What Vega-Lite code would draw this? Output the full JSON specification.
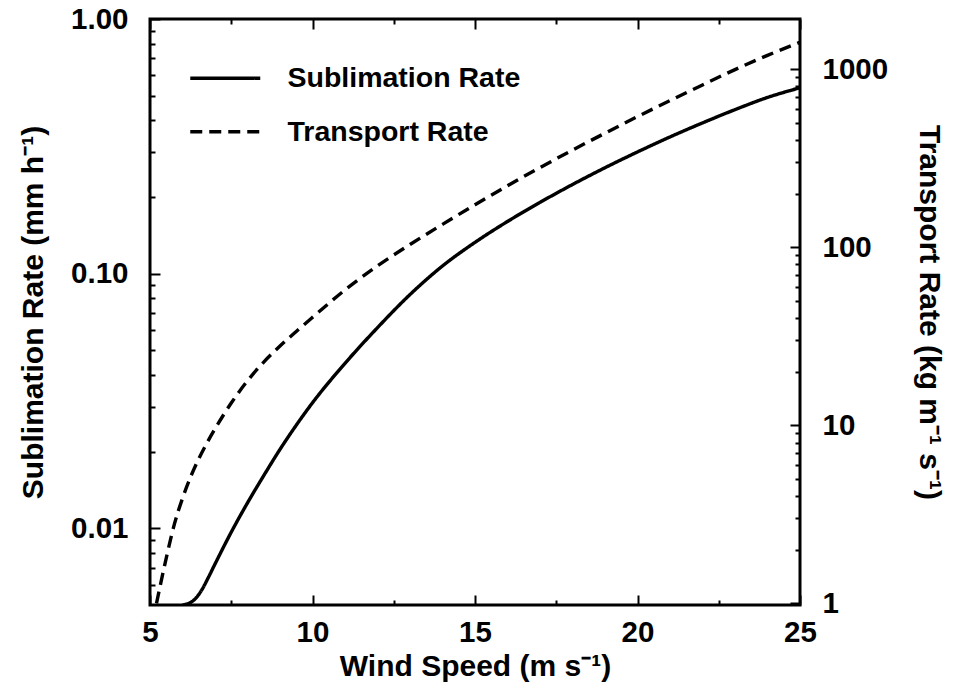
{
  "$schema": "https://vega.github.io/schema/vega-lite/v6.json",
  "width": 650,
  "height": 586,
  "autosize": {"type": "none"},
  "padding": {"left": 150, "top": 19, "right": 155, "bottom": 87},
  "background": "white",
  "config": {
    "view": {"stroke": "black", "strokeWidth": 3},
    "font": "Liberation Sans",
    "axis": {
      "grid": false,
      "domain": false,
      "tickColor": "black",
      "tickWidth": 2,
      "labelFont": "Liberation Sans",
      "labelFontWeight": "bold",
      "labelFontSize": 29.5,
      "labelColor": "black",
      "labelFlush": false,
      "labelOverlap": false,
      "labelBound": false,
      "titleFont": "Liberation Sans",
      "titleFontWeight": "bold",
      "titleFontSize": 30,
      "titleColor": "black"
    }
  },
  "data": {
    "values": [
      {"wind": 6.0, "rate": 0.005, "series": "Sublimation Rate"},
      {"wind": 6.2, "rate": 0.00508, "series": "Sublimation Rate"},
      {"wind": 6.4, "rate": 0.0053, "series": "Sublimation Rate"},
      {"wind": 6.6, "rate": 0.00575, "series": "Sublimation Rate"},
      {"wind": 6.8, "rate": 0.00643, "series": "Sublimation Rate"},
      {"wind": 7.0, "rate": 0.00724, "series": "Sublimation Rate"},
      {"wind": 7.5, "rate": 0.00966, "series": "Sublimation Rate"},
      {"wind": 8.0, "rate": 0.01259, "series": "Sublimation Rate"},
      {"wind": 8.5, "rate": 0.01611, "series": "Sublimation Rate"},
      {"wind": 9.0, "rate": 0.02042, "series": "Sublimation Rate"},
      {"wind": 9.5, "rate": 0.02541, "series": "Sublimation Rate"},
      {"wind": 10.0, "rate": 0.03112, "series": "Sublimation Rate"},
      {"wind": 11.0, "rate": 0.04446, "series": "Sublimation Rate"},
      {"wind": 12.0, "rate": 0.06138, "series": "Sublimation Rate"},
      {"wind": 13.0, "rate": 0.08279, "series": "Sublimation Rate"},
      {"wind": 14.0, "rate": 0.1072, "series": "Sublimation Rate"},
      {"wind": 15.0, "rate": 0.1327, "series": "Sublimation Rate"},
      {"wind": 16.0, "rate": 0.1603, "series": "Sublimation Rate"},
      {"wind": 17.0, "rate": 0.1905, "series": "Sublimation Rate"},
      {"wind": 18.0, "rate": 0.2239, "series": "Sublimation Rate"},
      {"wind": 19.0, "rate": 0.2606, "series": "Sublimation Rate"},
      {"wind": 20.0, "rate": 0.3006, "series": "Sublimation Rate"},
      {"wind": 21.0, "rate": 0.3443, "series": "Sublimation Rate"},
      {"wind": 22.0, "rate": 0.3908, "series": "Sublimation Rate"},
      {"wind": 23.0, "rate": 0.4406, "series": "Sublimation Rate"},
      {"wind": 24.0, "rate": 0.492, "series": "Sublimation Rate"},
      {"wind": 25.0, "rate": 0.537, "series": "Sublimation Rate"},
      {"wind": 5.2, "rate": 1.0, "series": "Transport Rate"},
      {"wind": 5.5, "rate": 1.799, "series": "Transport Rate"},
      {"wind": 5.75, "rate": 2.786, "series": "Transport Rate"},
      {"wind": 6.0, "rate": 3.89, "series": "Transport Rate"},
      {"wind": 6.25, "rate": 5.129, "series": "Transport Rate"},
      {"wind": 6.5, "rate": 6.486, "series": "Transport Rate"},
      {"wind": 6.75, "rate": 7.943, "series": "Transport Rate"},
      {"wind": 7.0, "rate": 9.55, "series": "Transport Rate"},
      {"wind": 7.5, "rate": 13.34, "series": "Transport Rate"},
      {"wind": 8.0, "rate": 17.78, "series": "Transport Rate"},
      {"wind": 8.5, "rate": 22.65, "series": "Transport Rate"},
      {"wind": 9.0, "rate": 27.86, "series": "Transport Rate"},
      {"wind": 9.5, "rate": 33.65, "series": "Transport Rate"},
      {"wind": 10.0, "rate": 40.36, "series": "Transport Rate"},
      {"wind": 11.0, "rate": 57.54, "series": "Transport Rate"},
      {"wind": 12.0, "rate": 78.52, "series": "Transport Rate"},
      {"wind": 13.0, "rate": 103.5, "series": "Transport Rate"},
      {"wind": 14.0, "rate": 134.3, "series": "Transport Rate"},
      {"wind": 15.0, "rate": 173.0, "series": "Transport Rate"},
      {"wind": 16.0, "rate": 221.3, "series": "Transport Rate"},
      {"wind": 17.0, "rate": 279.9, "series": "Transport Rate"},
      {"wind": 18.0, "rate": 350.8, "series": "Transport Rate"},
      {"wind": 19.0, "rate": 436.5, "series": "Transport Rate"},
      {"wind": 20.0, "rate": 540.8, "series": "Transport Rate"},
      {"wind": 21.0, "rate": 665.3, "series": "Transport Rate"},
      {"wind": 22.0, "rate": 814.7, "series": "Transport Rate"},
      {"wind": 23.0, "rate": 993.1, "series": "Transport Rate"},
      {"wind": 24.0, "rate": 1194, "series": "Transport Rate"},
      {"wind": 25.0, "rate": 1413, "series": "Transport Rate"}
    ]
  },
  "layer": [
    {
      "transform": [{"filter": "datum.series == 'Sublimation Rate'"}],
      "mark": {"type": "line", "strokeWidth": 3.4, "color": "black", "clip": true, "interpolate": "monotone"},
      "encoding": {
        "x": {
          "field": "wind",
          "type": "quantitative",
          "scale": {"domain": [5, 25], "nice": false, "zero": false},
          "axis": {
            "orient": "bottom",
            "offset": -10,
            "tickSize": 10,
            "values": [5, 10, 15, 20, 25],
            "format": "d",
            "labelPadding": 13,
            "title": "Wind Speed (m s⁻¹)",
            "titlePadding": 5
          }
        },
        "y": {
          "field": "rate",
          "type": "quantitative",
          "scale": {"type": "log", "domain": [0.005, 1], "nice": false},
          "axis": {
            "orient": "left",
            "offset": -10,
            "tickSize": 10,
            "values": [0.01, 0.1, 1],
            "format": ".2f",
            "labelPadding": 22,
            "title": "Sublimation Rate (mm h⁻¹)",
            "titlePadding": 22
          }
        },
        "strokeDash": {
          "field": "series",
          "type": "nominal",
          "scale": {"domain": ["Sublimation Rate", "Transport Rate"], "range": [[1, 0], [12, 7]]},
          "legend": {
            "orient": "none",
            "legendX": 61,
            "legendY": 45,
            "title": null,
            "padding": 0,
            "symbolType": "M-5,0H5",
            "symbolSize": 196,
            "symbolStrokeWidth": 3.4,
            "symbolStrokeColor": "black",
            "symbolFillColor": "transparent",
            "labelFont": "Liberation Sans",
            "labelFontWeight": "bold",
            "labelFontSize": 28.5,
            "labelColor": "black",
            "labelOffset": 48,
            "rowPadding": 24.5,
            "labelLimit": 400
          }
        }
      }
    },
    {
      "transform": [{"filter": "datum.series == 'Transport Rate'"}],
      "mark": {"type": "line", "strokeWidth": 3.4, "color": "black", "clip": true, "interpolate": "monotone"},
      "encoding": {
        "x": {
          "field": "wind",
          "type": "quantitative",
          "axis": {
            "orient": "top",
            "offset": -10,
            "tickSize": 10,
            "values": [5, 10, 15, 20, 25],
            "labels": false,
            "title": null
          }
        },
        "y": {
          "field": "rate",
          "type": "quantitative",
          "scale": {"type": "log", "domain": [0.98, 1910], "nice": false},
          "axis": {
            "orient": "right",
            "offset": -10,
            "tickSize": 10,
            "values": [1, 10, 100, 1000],
            "format": "d",
            "labelPadding": 22,
            "title": "Transport Rate (kg m⁻¹ s⁻¹)",
            "titlePadding": 26
          }
        },
        "strokeDash": {"field": "series", "type": "nominal"}
      }
    },
    {
      "transform": [{"filter": "datum.series == 'Sublimation Rate'"}],
      "mark": {"type": "line", "opacity": 0, "clip": true},
      "encoding": {
        "x": {
          "field": "wind",
          "type": "quantitative",
          "axis": {
            "orient": "bottom",
            "offset": -5,
            "tickSize": 5,
            "values": [7.5, 12.5, 17.5, 22.5],
            "labels": false,
            "title": null
          }
        },
        "y": {
          "field": "rate",
          "type": "quantitative",
          "scale": {"type": "log", "domain": [0.005, 1], "nice": false},
          "axis": {
            "orient": "left",
            "offset": -5,
            "tickSize": 5,
            "values": [0.006, 0.007, 0.008, 0.009, 0.02, 0.03, 0.04, 0.05, 0.06, 0.07, 0.08, 0.09, 0.2, 0.3, 0.4, 0.5, 0.6, 0.7, 0.8, 0.9],
            "labels": false,
            "title": null
          }
        }
      }
    },
    {
      "transform": [{"filter": "datum.series == 'Transport Rate'"}],
      "mark": {"type": "line", "opacity": 0, "clip": true},
      "encoding": {
        "x": {
          "field": "wind",
          "type": "quantitative",
          "axis": {
            "orient": "top",
            "offset": -5,
            "tickSize": 5,
            "values": [7.5, 12.5, 17.5, 22.5],
            "labels": false,
            "title": null
          }
        },
        "y": {
          "field": "rate",
          "type": "quantitative",
          "scale": {"type": "log", "domain": [0.98, 1910], "nice": false},
          "axis": {
            "orient": "right",
            "offset": -5,
            "tickSize": 5,
            "values": [2, 3, 4, 5, 6, 7, 8, 9, 20, 30, 40, 50, 60, 70, 80, 90, 200, 300, 400, 500, 600, 700, 800, 900],
            "labels": false,
            "title": null
          }
        }
      }
    }
  ],
  "resolve": {
    "scale": {"y": "independent"},
    "axis": {"x": "independent", "y": "independent"}
  }
}
